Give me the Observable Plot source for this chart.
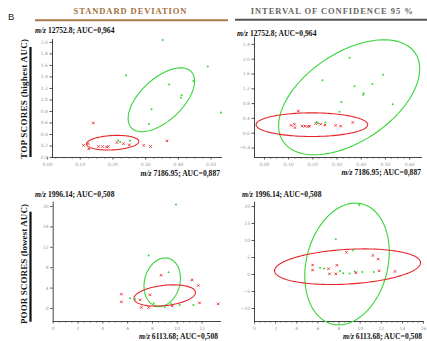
<!DOCTYPE html>
<html>
<head>
<meta charset="utf-8">
<script src="https://cdn.jsdelivr.net/npm/d3@7"></script>
<script src="https://cdn.jsdelivr.net/npm/@observablehq/plot@0.6"></script>
<style>
  html, body { margin: 0; padding: 0; background: #fff; }
  #wrap { position: relative; width: 427px; height: 341px; overflow: hidden; background: #fff; }
  #wrap > svg, #wrap > figure { position: absolute; margin: 0; }
</style>
</head>
<body>
<div id="wrap"></div>
<script>
// ---------- DATA ----------
// Top row: x = m/z 7186.95, y = m/z 12752.8
const topRedX   = [0.140, 0.110, 0.124, 0.126, 0.156, 0.168, 0.180, 0.186, 0.212, 0.232, 0.250, 0.294, 0.315, 0.365];
const topRedY   = [0.60, 0.21, 0.24, 0.15, 0.19, 0.19, 0.18, 0.19, 0.26, 0.24, 0.22, 0.21, 0.19, 0.29];
const topGreenX = [0.352, 0.490, 0.240, 0.446, 0.372, 0.410, 0.408, 0.318, 0.530, 0.310, 0.216, 0.222, 0.252];
const topGreenY = [2.04, 1.58, 1.43, 1.33, 1.27, 1.08, 1.04, 0.84, 0.78, 0.58, 0.30, 0.27, 0.29];

// Bottom row: x = m/z 6113.68, y = m/z 1996.14
const botRedX   = [5.5, 5.5, 7.0, 7.1, 7.8, 7.7, 8.7, 9.6, 11.2, 11.7, 11.8, 13.3];
const botRedY   = [2.8, 1.3, 1.7, 0.2, 2.7, 0.2, 6.5, 0.5, 5.6, 4.5, 1.1, 0.9];
const botGreenX = [9.9, 7.7, 9.3, 6.2, 6.6, 8.1, 8.4, 9.0, 9.5, 10.2, 11.3];
const botGreenY = [20.4, 10.4, 7.1, 2.0, 1.8, 1.0, 0.4, 0.3, 0.9, 0.7, 0.7];

// Ellipses: [centerX, centerY, Ux, Uy, Vx, Vy] (conjugate semi-diameters, data units)
const ellTopSDGreen = [0.348, 1.003, 0.0917, 0.486, 0.0437, -0.267];
const ellTopSDRed   = [0.199, 0.257, 0.080, 0.024, 0.001, -0.125];
const ellTopCIGreen = [0.350, 0.970, 0.273, 1.192, 0.102, -0.997];
const ellTopCIRed   = [0.196, 0.230, 0.2306, 0.0, 0.0, -0.319];
const ellBotSDGreen = [8.79, 5.16, 1.45, 0.0, 0.24, 4.75];
const ellBotSDRed   = [8.99, 2.55, 2.48, 0.59, 0.0, -2.0];
const ellBotCIGreen = [8.76, 3.09, 3.92, 0.0, 0.79, 17.9];
const ellBotCIRed   = [8.81, 2.29, 6.91, 1.18, 0.0, -5.1];

// Tick values
const ticksTopSDX = [0.0, 0.1, 0.2, 0.3, 0.4, 0.5];
const ticksTopSDY = [0.0, 0.2, 0.4, 0.6, 0.8, 1.0, 1.2, 1.4, 1.6, 1.8, 2.0];
const ticksTopCIX = [0.0, 0.1, 0.2, 0.3, 0.4, 0.5, 0.6];
const ticksTopCIY = [-0.4, 0.0, 0.4, 0.8, 1.2, 1.6, 2.0, 2.4];
const ticksBotSDX = [0, 2, 4, 6, 8, 10, 12];
const ticksBotSDY = [0, 4, 8, 12, 16, 20];
const ticksBotCIX = [0, 2, 4, 6, 8, 10, 12, 14, 16];
const ticksBotCIY = [-10, -5, 0, 5, 10, 15, 20];

// Text
const headerLeft  = "STANDARD DEVIATION";
const headerRight = "INTERVAL OF CONFIDENCE 95 %";
const rowTop = "TOP SCORES (highest AUC)";
const rowBot = "POOR SCORES (lowest AUC)";
const topYLabel = " 12752.8; AUC=0,964";
const topXLabel = " 7186.95; AUC=0,887";
const botYLabel = " 1996.14; AUC=0,508";
const botXLabel = " 6113.68; AUC=0,508";

// ---------- HELPERS ----------
const RED = "#e8262a", GREEN = "#37d537";
const zip = (xs, ys) => xs.map((x, i) => ({x, y: ys[i]}));
function ellipse(e) {
  const [cx, cy, ux, uy, vx, vy] = e;
  return d3.range(0, 145).map(i => {
    const t = i / 144 * 2 * Math.PI;
    return {x: cx + ux * Math.cos(t) + vx * Math.sin(t), y: cy + uy * Math.cos(t) + vy * Math.sin(t)};
  });
}
function minor(ticks, n) {
  const out = [];
  for (let i = 0; i < ticks.length - 1; i++) {
    const a = ticks[i], b = ticks[i + 1];
    for (let k = 1; k < n; k++) out.push(a + (b - a) * k / n);
  }
  return out;
}

function panel(o) {
  const p = Plot.plot({
    width: o.w, height: o.h,
    marginLeft: o.ml, marginRight: o.mr, marginTop: o.mt, marginBottom: o.mb,
    x: {domain: o.xd, label: null},
    y: {domain: o.yd, label: null},
    style: {fontFamily: "DejaVu Sans", fontSize: "4.5px", color: "#888", background: "transparent", overflow: "visible"},
    marks: [
      Plot.axisX({ticks: minor(o.xt, 4), tickSize: 1.5, tickFormat: () => "", stroke: "#555", label: null}),
      Plot.axisX({ticks: o.xt, tickSize: 2.5, tickPadding: 2.5, tickFormat: o.xf, stroke: "#555", fill: "#999", fontSize: 4.5, label: null}),
      Plot.axisY({ticks: o.yt, tickSize: 2.5, tickPadding: 2, tickFormat: o.yf, stroke: "#555", fill: "#999", fontSize: 4.5, label: null}),
      Plot.ruleX([o.xd[0]], {stroke: "#444", strokeWidth: 1}),
      Plot.ruleY([o.yd[0]], {stroke: "#444", strokeWidth: 1}),
      Plot.line(ellipse(o.eg), {x: "x", y: "y", stroke: GREEN, strokeWidth: 1.1}),
      Plot.line(ellipse(o.er), {x: "x", y: "y", stroke: RED, strokeWidth: 1.1}),
      Plot.dot(o.green, {x: "x", y: "y", r: 1, fill: GREEN}),
      Plot.dot(o.red, {x: "x", y: "y", symbol: "times", r: 1.2, stroke: RED, strokeWidth: 0.9})
    ]
  });
  p.style.left = o.left + "px";
  p.style.top = o.top + "px";
  p.style.overflow = "visible";
  return p;
}

const wrap = document.getElementById("wrap");
const topPts = {green: zip(topGreenX, topGreenY), red: zip(topRedX, topRedY)};
const botPts = {green: zip(botGreenX, botGreenY), red: zip(botRedX, botRedY)};

wrap.appendChild(panel({left: 30, top: 30, w: 200, h: 140, ml: 22, mr: 8, mt: 9, mb: 13,
  xd: [0.015, 0.535], yd: [0, 2.05], xt: ticksTopSDX, yt: ticksTopSDY,
  xf: d3.format(".2f"), yf: d3.format(".1f"), eg: ellTopSDGreen, er: ellTopSDRed, ...topPts}));
wrap.appendChild(panel({left: 230, top: 30, w: 197, h: 140, ml: 24, mr: 5, mt: 7, mb: 13,
  xd: [-0.041, 0.653], yd: [-0.657, 2.586], xt: ticksTopCIX, yt: ticksTopCIY,
  xf: d3.format(".2f"), yf: d3.format(".1f"), eg: ellTopCIGreen, er: ellTopCIRed, ...topPts}));
wrap.appendChild(panel({left: 30, top: 195, w: 200, h: 140, ml: 22.7, mr: 9, mt: 6.7, mb: 14,
  xd: [0, 13.57], yd: [-2.55, 20.84], xt: ticksBotSDX, yt: ticksBotSDY,
  xf: d3.format("d"), yf: d3.format("d"), eg: ellBotSDGreen, er: ellBotSDRed, ...botPts}));
wrap.appendChild(panel({left: 230, top: 195, w: 197, h: 140, ml: 24, mr: 4, mt: 6.7, mb: 14,
  xd: [0, 16], yd: [-13.82, 21.26], xt: ticksBotCIX, yt: ticksBotCIY,
  xf: d3.format("d"), yf: d3.format("d"), eg: ellBotCIGreen, er: ellBotCIRed, ...botPts}));

// ---------- ANNOTATION OVERLAY ----------
const svg = d3.select(wrap).append("svg")
  .attr("width", 427).attr("height", 341)
  .style("left", "0px").style("top", "0px").style("pointer-events", "none");

svg.append("text").attr("x", 8).attr("y", 19.5).attr("font-family", "Liberation Sans")
  .attr("font-size", 9.5).attr("fill", "#222").text("B");

svg.append("text").attr("x", 130).attr("y", 14).attr("text-anchor", "middle")
  .attr("font-family", "Liberation Serif").attr("font-weight", "bold").attr("font-size", 8.5)
  .attr("fill", "#a2703c").attr("textLength", 113).text(headerLeft);
svg.append("line").attr("x1", 35).attr("x2", 228).attr("y1", 20.3).attr("y2", 20.3)
  .attr("stroke", "#a87a4a").attr("stroke-width", 2);

svg.append("text").attr("x", 331.7).attr("y", 14).attr("text-anchor", "middle")
  .attr("font-family", "Liberation Serif").attr("font-weight", "bold").attr("font-size", 8.5)
  .attr("fill", "#666").attr("textLength", 162).text(headerRight);
svg.append("line").attr("x1", 235).attr("x2", 427).attr("y1", 19.8).attr("y2", 19.8)
  .attr("stroke", "#555").attr("stroke-width", 2);

function mzLabel(x, y, rest, anchor) {
  const t = svg.append("text").attr("x", x).attr("y", y)
    .attr("font-family", "Liberation Serif").attr("font-weight", "bold").attr("font-size", 7.6)
    .attr("fill", "#111").attr("text-anchor", anchor || "start");
  t.append("tspan").attr("font-style", "italic").text("m/z");
  t.append("tspan").text(rest);
}
mzLabel(35, 33.3, topYLabel);
mzLabel(237, 36.3, topYLabel);
mzLabel(220, 175.5, topXLabel, "end");
mzLabel(421, 175, topXLabel, "end");
mzLabel(35, 197.3, botYLabel);
mzLabel(242, 196.8, botYLabel);
mzLabel(218, 339, botXLabel, "end");
mzLabel(422, 339, botXLabel, "end");

function rowLabel(cy, text, y1, y2) {
  svg.append("text").attr("transform", `translate(26.5,${cy}) rotate(-90)`)
    .attr("text-anchor", "middle").attr("font-family", "Liberation Serif").attr("font-weight", "bold")
    .attr("font-size", 9).attr("fill", "#111").attr("textLength", 120).text(text);
  svg.append("line").attr("x1", 30.5).attr("x2", 30.5).attr("y1", y1).attr("y2", y2)
    .attr("stroke", "#111").attr("stroke-width", 2.2);
}
rowLabel(99, rowTop, 47, 157);
rowLabel(264, rowBot, 211.7, 321.7);
</script>
</body>
</html>
